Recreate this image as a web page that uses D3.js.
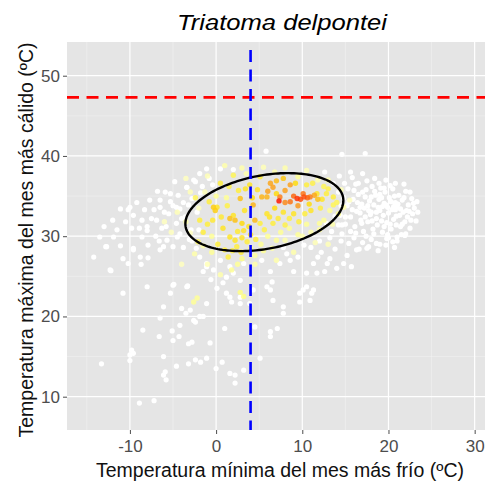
<!DOCTYPE html>
<html>
<head>
<meta charset="utf-8">
<script src="https://cdn.jsdelivr.net/npm/d3@7"></script>
<style>
  body { margin: 0; background: #fff; }
  svg text { font-family: 'Liberation Sans', Arial, sans-serif; }
</style>
</head>
<body>
<div id="chart"></div>
<script>
// axis setup
const xDomain = [-17.3, 31.2];
const yDomain = [5.85, 54.2];
const xMajor = [-10, 0, 10, 20, 30];
const xMinor = [-15, -5, 5, 15, 25];
const yMajor = [10, 20, 30, 40, 50];
const yMinor = [15, 25, 35, 45];

// thresholds
const hLine = 47.3;   // red
const vLine = 4.0;    // blue

// ellipse (centre + covariance, data units)
const ellipseCenter = [5.6, 33.0];
const ellipseCov = [[84.0, 13.35], [13.35, 23.6]];

// background points [x, y]
const whitePts = [
  [15.2,33.8],[15.6,32.4],[15.9,34.6],[16.1,31.2],[16.3,33.1],[16.5,35.2],[16.8,32.0],[16.9,34.0],
  [17.1,30.6],[17.2,33.5],[17.4,35.8],[17.6,31.8],[17.8,34.4],[17.9,32.7],[18.1,36.2],[18.2,30.9],
  [18.3,33.9],[18.5,35.1],[18.6,32.2],[18.7,31.4],[18.9,34.6],[19.0,33.2],[19.1,36.0],[19.3,30.5],
  [19.4,32.6],[19.5,34.1],[19.6,35.5],[19.8,31.7],[19.9,33.6],[20.0,32.9],[20.1,34.8],[20.3,30.9],
  [20.4,33.3],[20.5,35.9],[20.6,32.1],[20.8,34.2],[20.9,31.4],[21.0,33.7],[21.2,35.1],[21.3,32.6],
  [21.5,30.2],[21.6,34.5],[21.7,33.0],[21.9,31.8],[22.0,35.6],[22.2,32.4],[22.3,33.9],[22.5,31.0],
  [22.7,34.7],[22.8,32.8],[23.0,33.5],[23.2,31.9],[16.0,29.8],[17.0,29.2],[18.0,29.6],[19.0,29.0],
  [20.0,29.8],[21.0,29.4],[22.0,30.3],[15.0,31.5],[14.6,30.3],[15.4,29.1],[16.6,28.4],[17.7,28.7],
  [18.8,28.2],[19.7,28.9],[20.7,28.6],[17.5,36.9],[18.4,37.2],[19.7,37.0],[20.8,36.6],[21.8,36.5],
  [16.2,36.5],[15.3,35.9],[14.8,34.8],[15.8,37.3],[18.0,34.9],[19.2,31.9],[20.2,31.5],[17.3,32.4],
  [21.4,31.2],[16.7,33.6],[19.0,35.2],[20.7,35.0],[22.4,33.1],[18.6,33.0],[15.6,30.6],[14.4,32.6],
  [15.8,33.3],[16.4,34.2],[16.9,31.6],[17.3,34.9],[17.7,33.2],[18.1,31.9],[18.4,35.6],[18.8,33.6],
  [19.2,34.8],[19.5,31.2],[19.7,33.9],[20.2,36.3],[20.3,34.3],[20.6,33.7],[20.9,32.5],[21.1,34.0],
  [21.4,33.4],[21.8,34.8],[22.1,33.2],[22.6,32.0],[22.9,34.1],[23.4,33.0],[17.0,35.5],[18.9,36.6],
  [16.0,35.7],[15.4,34.3],[19.9,30.2],[18.3,30.3],[21.6,31.5],[20.5,29.3],[17.4,30.0],[16.2,30.4],
  [15.0,32.4],[14.5,33.8],[14.2,35.5],[14.9,36.6],[15.6,38.0],[17.0,37.8],[22.5,35.5],[23.3,34.3],
  [19.5,36.0],[18.0,33.0],[19.3,33.7],[20.8,33.3],[17.6,33.8],[16.7,32.9],
  // band towards the ellipse
  [9.0,25.6],[10.1,23.3],[11.1,22.9],[9.7,21.8],[10.5,25.4],[11.7,25.4],[12.6,25.6],[14.0,26.0],
  [15.7,26.2],[14.8,26.6],[11.3,26.6],[13.2,27.2],[15.2,27.6],[16.3,28.3],[17.5,28.5],[18.6,29.1],
  [19.8,29.7],[21.0,29.9],[21.9,30.1],[12.2,28.0],[13.8,28.4],[14.5,29.4],[13.4,30.6],[14.2,31.4],
  [13.6,36.6],[14.3,37.5],[12.6,38.0],[16.5,36.6],[12.8,31.6],[13.8,32.5],[14.6,31.4],[13.2,29.8],
  [12.0,29.4],[11.0,28.6],[10.2,28.9],[9.5,27.4],[8.2,27.8],[7.8,28.6],[11.8,27.4],[12.9,26.6],
  // top outliers
  [5.8,40.6],[14.6,40.2],[17.3,40.3],
  // left band
  [-11.1,33.4],[-10.0,33.6],[-9.6,32.6],[-8.6,32.0],[-7.7,34.5],[-7.5,32.2],[-6.5,33.6],[-5.9,35.5],
  [-5.5,32.8],[-5.3,34.3],[-4.4,35.1],[-4.2,33.4],[-4.6,31.6],[-3.4,36.1],[-2.8,34.7],[-2.4,36.8],
  [-9.8,31.0],[-8.0,30.7],[-6.3,31.0],[-13.5,29.9],[-11.9,29.9],[-10.2,33.3],[-12.7,28.7],[-14.2,27.4],
  [-12.3,25.8],[-10.8,27.2],[-9.6,28.5],[-8.6,29.9],[-8.0,31.2],[-6.9,32.0],[-6.5,34.5],[-5.3,35.3],
  [-4.6,33.6],[-4.2,30.3],[-3.4,36.1],[-2.6,37.0],[-1.9,37.8],[-1.1,38.4],[0.5,38.4],[2.0,38.3],
  [-10.2,26.6],[-8.8,27.4],[-6.5,28.3],[-5.7,29.5],[-5.0,28.7],[-1.9,27.4],[-1.1,26.6],[-0.3,25.8],
  [0.5,27.0],[1.6,26.2],[1.2,24.9],[2.8,24.5],[-12.8,28.7],[-11.1,28.8],[-9.6,28.3],[-8.7,26.5],
  [-7.9,27.3],[-7.9,28.9],[-6.1,28.7],[-12.2,25.7],[-3.6,32.4],[-2.9,30.8],[-3.2,33.9],[-7.0,30.0],
  [-5.8,31.2],[-1.8,35.4],[-0.4,36.4],[-9.2,34.2],[-4.8,36.8],[-3.8,28.6],[-2.8,29.4],[-6.8,35.6],
  [-3.8,34.2],[-2.2,33.0],[-1.6,36.2],[-0.8,37.2],[-2.0,30.8],[-3.1,29.6],[-4.0,32.2],[-5.0,33.8],
  [-6.0,33.0],[-7.2,33.3],[-8.3,33.3],[-8.9,31.0],[-10.5,31.8],[-12.0,32.0],[-11.5,30.8],[-13.0,31.2],
  [-6.6,29.4],[-4.5,29.9],[-2.3,28.5],[-1.5,25.6],[0.8,24.2],[-0.6,24.6],
  // lower scatter
  [-10.8,22.9],[-4.9,24.0],[-3.3,23.8],[-6.1,21.2],[-6.5,19.8],[-4.0,21.0],[-3.5,20.4],[-2.4,19.3],
  [-4.2,18.9],[-8.5,18.3],[-6.6,17.5],[-5.1,18.2],[-5.0,17.0],[-4.3,17.5],[-3.2,16.6],[-2.8,16.8],
  [-9.8,15.8],[-10.0,15.2],[-9.6,15.4],[-10.0,14.5],[-6.1,15.0],[-13.3,14.1],[-4.6,13.8],[-3.2,14.1],
  [-2.4,14.6],[-1.8,14.3],[-1.1,14.8],[-5.9,13.1],[-6.1,12.7],[-5.8,12.1],[-8.9,9.2],[-7.2,9.5],
  [-0.7,16.7],[1.0,18.5],[0.7,14.3],[0.0,13.5],[1.6,12.9],[2.2,12.7],[2.2,11.7],[3.2,13.3],
  [5.1,14.8],[6.3,18.1],[6.3,17.5],[7.1,18.5],[-5.0,23.9],[-3.4,23.7],[-5.3,22.9],[-8.0,23.7],
  [-1.9,20.0],[-2.6,19.5],[-3.0,20.8],[1.6,22.4],[2.8,21.6],[4.3,23.3],[5.9,23.7],[6.6,22.0],
  [7.8,20.4],[9.7,22.9],[10.5,23.7],[10.9,22.0],[11.3,23.3],[-1.1,26.2],[2.0,25.4],[3.2,26.6],
  [5.3,27.0],[6.3,25.6],[7.4,26.6],[8.6,27.0],[6.5,24.3],[0.1,23.5],[1.2,22.9],[2.8,22.4],
  [-1.1,21.6],[1.8,21.8],[3.9,21.6],[6.3,23.3],[7.8,21.2],[4.5,18.7],[-1.5,20.0]
];

// occurrence points [x, y, level 0..1]
const occPts = [
  // pale
  [-4.5,33.0,0.12],[-3.5,31.8,0.15],[-3.0,35.5,0.12],[-5.2,30.5,0.1],[-2.5,27.8,0.15],[-1.0,26.5,0.12],
  [0.5,25.2,0.15],[2.5,26.5,0.2],[4.5,27.6,0.18],[6.5,28.5,0.15],[8.0,29.5,0.15],[10.0,30.0,0.15],
  [12.0,30.8,0.18],[13.5,31.5,0.15],[14.2,32.8,0.2],[14.8,33.6,0.15],[15.5,34.5,0.1],[13.0,37.0,0.15],
  [10.5,38.2,0.12],[8.0,38.5,0.15],[5.5,38.6,0.12],[3.0,38.5,0.15],[1.0,38.8,0.15],[-1.0,37.5,0.12],
  [-3.5,37.2,0.1],[6.0,30.0,0.2],[8.5,31.0,0.2],[10.5,31.5,0.2],[4.0,28.5,0.22],[-0.5,28.0,0.2],
  [2.8,23.0,0.25],[3.2,22.5,0.25],[-2.6,21.8,0.2],[-2.2,22.3,0.2],[11.5,29.2,0.12],[13.0,29.0,0.12],
  [9.0,28.0,0.15],[7.0,27.0,0.15],[-4.0,26.5,0.1],[-6.0,31.8,0.1],[0.0,35.0,0.2],[5.2,29.0,0.2],
  [7.5,30.5,0.2],[12.5,32.0,0.2],[-2.0,33.5,0.1],[-1.3,35.5,0.12],[-3.0,30.4,0.1],[1.2,34.8,0.2],
  [3.5,37.8,0.15],[6.8,38.0,0.15],[9.5,37.4,0.2],[11.8,37.0,0.15],[13.2,33.2,0.2],[12.0,31.6,0.2],
  [9.5,30.2,0.2],[7.0,29.5,0.2],[5.5,28.2,0.2],[3.0,27.2,0.25],[1.8,25.8,0.2],[-0.5,30.0,0.2],
  [-1.5,28.8,0.15],[4.5,26.5,0.15],[11.0,30.5,0.15],[14.5,35.8,0.12],
  // yellow
  [0.1,33.6,0.45],[2.0,32.6,0.45],[1.6,29.9,0.45],[2.2,29.5,0.45],[3.6,29.3,0.4],[1.4,27.4,0.4],
  [2.4,28.7,0.4],[3.2,30.7,0.45],[0.5,36.6,0.4],[2.0,37.6,0.35],[7.8,33.0,0.45],[9.0,32.8,0.45],
  [10.3,32.8,0.4],[12.8,35.3,0.4],[13.6,34.9,0.4],[11.7,35.3,0.45],[13.6,33.9,0.35],[5.9,32.8,0.45],
  [5.1,31.6,0.4],[6.6,31.6,0.4],[-1.9,32.0,0.4],[-1.5,30.5,0.4],[-2.1,29.3,0.35],[3.9,36.4,0.45],
  [5.1,37.4,0.4],[10.5,36.4,0.4],[7.0,35.3,0.5],[-0.8,34.3,0.4],[0.8,31.0,0.45],[3.0,31.6,0.5],
  [4.0,30.2,0.45],[1.0,28.3,0.4],[0.2,29.0,0.4],[-1.0,31.5,0.4],[12.1,33.5,0.4],[11.0,33.2,0.45],
  [8.5,32.2,0.4],[6.8,33.5,0.5],[3.3,33.2,0.45],[4.8,35.8,0.45],[2.6,35.7,0.4],[-2.4,34.8,0.35],
  [14.0,34.2,0.35],[12.5,36.2,0.35],[0.6,32.4,0.42],[1.3,33.8,0.38],[2.5,30.6,0.42],[3.8,31.2,0.45],
  [4.6,29.6,0.4],[5.6,30.8,0.38],[6.2,32.4,0.45],[7.2,32.2,0.42],[8.0,31.4,0.38],[9.6,31.8,0.4],
  [10.8,34.0,0.5],[12.3,34.6,0.45],[13.0,35.9,0.38],[11.2,36.6,0.38],[9.2,36.6,0.5],[4.2,34.8,0.5],
  [3.4,35.9,0.45],[1.5,36.2,0.38],[-0.4,32.0,0.42],[1.9,28.2,0.4],[2.9,28.0,0.42],[3.0,29.8,0.45],
  // orange / red
  [-0.3,33.6,0.55],[-0.1,33.2,0.55],[1.6,32.2,0.6],[2.2,32.0,0.6],[4.5,32.0,0.62],[2.8,34.7,0.6],
  [4.3,33.9,0.65],[5.3,34.9,0.65],[5.9,34.9,0.65],[6.0,35.6,0.72],[6.3,36.6,0.7],[6.6,36.1,0.72],
  [7.0,36.9,0.62],[7.8,37.2,0.58],[8.0,35.7,0.72],[8.6,36.4,0.72],[7.4,34.9,0.8],[8.0,34.2,0.78],
  [8.6,34.3,0.82],[9.0,35.0,0.85],[9.5,33.8,0.75],[9.4,34.7,0.95],[9.8,34.6,0.9],[10.1,35.3,0.82],
  [10.2,34.9,0.9],[10.6,34.8,0.85],[10.9,34.9,0.8],[11.4,35.1,0.7],[11.8,34.6,0.6],[7.3,34.4,1.0]
];

const width = 487, height = 485;
const panel = { left: 67, right: 485, top: 42, bottom: 430 };
const font = "'Liberation Sans', Arial, sans-serif";

const x = d3.scaleLinear().domain(xDomain).range([panel.left, panel.right]);
const y = d3.scaleLinear().domain(yDomain).range([panel.bottom, panel.top]);
const color = d3.scaleLinear()
  .domain([0, 0.3, 0.5, 0.75, 1])
  .range(['#ffffe6', '#ffff70', '#ffdc10', '#fa9a20', '#ff1a00']);

const svg = d3.select('#chart').append('svg').attr('width', width).attr('height', height);

svg.append('rect').attr('width', width).attr('height', height).attr('fill', '#fff');
svg.append('rect')
  .attr('x', panel.left).attr('y', panel.top)
  .attr('width', panel.right - panel.left).attr('height', panel.bottom - panel.top)
  .attr('fill', '#e5e5e5');

const grid = svg.append('g');
grid.selectAll('.xmin').data(xMinor).enter().append('line')
  .attr('x1', d => x(d)).attr('x2', d => x(d)).attr('y1', panel.top).attr('y2', panel.bottom)
  .attr('stroke', '#f2f2f2').attr('stroke-width', 0.6);
grid.selectAll('.ymin').data(yMinor).enter().append('line')
  .attr('y1', d => y(d)).attr('y2', d => y(d)).attr('x1', panel.left).attr('x2', panel.right)
  .attr('stroke', '#f2f2f2').attr('stroke-width', 0.6);
grid.selectAll('.xmaj').data(xMajor).enter().append('line')
  .attr('x1', d => x(d)).attr('x2', d => x(d)).attr('y1', panel.top).attr('y2', panel.bottom)
  .attr('stroke', '#fff').attr('stroke-width', 1.2);
grid.selectAll('.ymaj').data(yMajor).enter().append('line')
  .attr('y1', d => y(d)).attr('y2', d => y(d)).attr('x1', panel.left).attr('x2', panel.right)
  .attr('stroke', '#fff').attr('stroke-width', 1.2);

// points
svg.append('g').selectAll('circle').data(whitePts).enter().append('circle')
  .attr('cx', d => x(d[0])).attr('cy', d => y(d[1])).attr('r', 2.6)
  .attr('fill', '#fff');

svg.append('g').selectAll('circle')
  .data(occPts.slice().sort((a, b) => a[2] - b[2]))
  .enter().append('circle')
  .attr('cx', d => x(d[0])).attr('cy', d => y(d[1])).attr('r', 2.7)
  .attr('fill', d => color(d[2])).attr('fill-opacity', 0.85);

// ellipse
const l11 = Math.sqrt(ellipseCov[0][0]);
const l21 = ellipseCov[0][1] / l11;
const l22 = Math.sqrt(ellipseCov[1][1] - l21 * l21);
const ell = d3.range(0, 2 * Math.PI + 0.01, Math.PI / 90).map(t => [
  ellipseCenter[0] + l11 * Math.cos(t),
  ellipseCenter[1] + l21 * Math.cos(t) + l22 * Math.sin(t)
]);
svg.append('path')
  .datum(ell)
  .attr('d', d3.line().x(d => x(d[0])).y(d => y(d[1])))
  .attr('fill', 'none').attr('stroke', '#000').attr('stroke-width', 2.4);

// threshold lines
svg.append('line')
  .attr('x1', panel.left).attr('x2', panel.right).attr('y1', y(hLine)).attr('y2', y(hLine))
  .attr('stroke', '#ff0000').attr('stroke-width', 2.6).attr('stroke-dasharray', '12,7.5');
svg.append('line')
  .attr('x1', x(vLine)).attr('x2', x(vLine)).attr('y1', panel.top + 8).attr('y2', panel.bottom)
  .attr('stroke', '#0000ff').attr('stroke-width', 2.6).attr('stroke-dasharray', '12,7.5');

// axes (plain hyphen for negatives, like the original)
const xAxis = svg.append('g').attr('transform', `translate(0,${panel.bottom})`)
  .call(d3.axisBottom(x).tickValues(xMajor).tickFormat(d => String(d)).tickSize(4).tickPadding(6));
const yAxis = svg.append('g').attr('transform', `translate(${panel.left},0)`)
  .call(d3.axisLeft(y).tickValues(yMajor).tickFormat(d => String(d)).tickSize(4).tickPadding(3));
[xAxis, yAxis].forEach(a => {
  a.select('.domain').remove();
  a.selectAll('line').attr('stroke', '#4d4d4d');
  a.selectAll('text').attr('fill', '#4d4d4d').style('font-size', '17px').style('font-family', font);
});

// titles
svg.append('text')
  .attr('x', (panel.left + panel.right) / 2 + 6).attr('y', 30)
  .attr('text-anchor', 'middle').style('font-size', '22px').style('font-style', 'italic')
  .attr('textLength', 210).attr('lengthAdjust', 'spacingAndGlyphs')
  .text('Triatoma delpontei');
svg.append('text')
  .attr('x', (panel.left + panel.right) / 2 + 4).attr('y', 477)
  .attr('text-anchor', 'middle').style('font-size', '19.5px').attr('fill', '#111')
  .text('Temperatura mínima del mes más frío (ºC)');
svg.append('text')
  .attr('transform', `translate(33,${(panel.top + panel.bottom) / 2 + 4}) rotate(-90)`)
  .attr('text-anchor', 'middle').style('font-size', '19.5px').attr('fill', '#111')
  .text('Temperatura máxima del mes más cálido (ºC)');
</script>
</body>
</html>
